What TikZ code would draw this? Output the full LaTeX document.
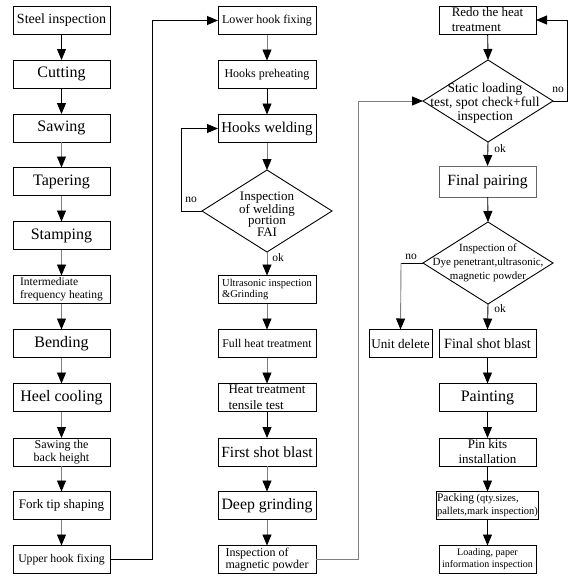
\documentclass[tikz,border=0pt]{standalone}
\usepackage{fontspec}
\setmainfont{Liberation Serif}
\usetikzlibrary{arrows.meta,shapes.geometric}
\newcommand\fz[2]{\fontsize{#1pt}{#2pt}\selectfont}
\begin{document}
\begin{tikzpicture}[x=1pt,y=-1pt,
  box/.style={draw,line width=0.9pt,minimum width=97pt,minimum height=28pt,inner sep=1pt,outer sep=0pt},
  dia/.style={draw,line width=0.9pt,diamond,minimum width=130pt,minimum height=82pt,inner sep=0pt,outer sep=0pt},
  dtext/.style={inner sep=0pt,align=center},
  arr/.style={line width=0.9pt,-{Triangle[length=11pt,width=9pt,color=black]}},
  ga/.style={arr,draw=black!50},
  lbl/.style={font=\fz{11.5}{12},inner sep=0pt}
]
\useasboundingbox[fill=white] (0,0) rectangle (578,587);
% column 1
\node[box,font=\fz{14}{15}] (a1) at (61.5,20.5) {Steel inspection};
\node[box,font=\fz{16}{17}] (a2) at (61.5,74) {Cutting};
\node[box,font=\fz{16}{17}] (a3) at (61.5,128) {Sawing};
\node[box,font=\fz{16}{17}] (a4) at (61.5,181.5) {Tapering};
\node[box,font=\fz{16}{17}] (a5) at (61.5,235.5) {Stamping};
\node[box,font=\fz{11.5}{13},align=left] (a6) at (61.5,289.5) {Intermediate\\frequency heating};
\node[box,font=\fz{16}{17}] (a7) at (61.5,343.5) {Bending};
\node[box,font=\fz{16}{17}] (a8) at (61.5,397.5) {Heel cooling};
\node[box,font=\fz{12}{13.5},align=center] (a9) at (61.5,452) {Sawing the\\back height};
\node[box,font=\fz{13}{14}] (a10) at (61.5,505.5) {Fork tip shaping};
\node[box,font=\fz{11.7}{13}] (a11) at (61.5,559.5) {Upper hook fixing};
% column 2
\node[box,minimum width=98pt,font=\fz{12}{13}] (b1) at (267,20.5) {Lower hook fixing};
\node[box,minimum width=98pt,font=\fz{12}{13}] (b2) at (267,74.5) {Hooks preheating};
\node[box,minimum width=98pt,font=\fz{15}{16}] (b3) at (267,128.5) {Hooks welding};
\node[dia] (d1) at (267,211) {};
\node[dtext,font=\fz{13}{11.7}] (t1) at (267,214) {Inspection\\of welding\\portion\\FAI};
\node[box,minimum width=98pt,font=\fz{10.5}{11.5},align=left] (b5) at (267,289.5) {Ultrasonic inspection\\\&Grinding};
\node[box,minimum width=98pt,font=\fz{11.8}{13}] (b6) at (267,343.5) {Full heat treatment};
\node[box,minimum width=98pt,font=\fz{13}{15.5},align=left] (b7) at (267,397.5) {Heat treatment\\tensile test};
\node[box,minimum width=98pt,font=\fz{15.5}{16}] (b8) at (267,452) {First shot blast};
\node[box,minimum width=98pt,font=\fz{15.8}{16}] (b9) at (267,505.5) {Deep grinding};
\node[box,minimum width=98pt,font=\fz{12}{11.5},align=left] (b10) at (267,559.5) {Inspection of\\magnetic powder};
% column 3
\node[box,font=\fz{13}{15},align=left] (c1) at (487.5,20) {Redo the heat\\treatment};
\node[dia] (d2) at (488,101) {};
\node[dtext,font=\fz{13.5}{14}] (t2) at (485,103) {Static loading\\test, spot check+full\\inspection};
\node[box,minimum height=31pt,draw=black!60,font=\fz{15.6}{16}] (c3) at (487.5,181.5) {Final pairing};
\node[dia] (d3) at (488,263) {};
\node[dtext,font=\fz{11}{14}] (t3) at (488,263) {Inspection of\\Dye penetrant,ultrasonic,\\magnetic powder};
\node[box,minimum width=63pt,font=\fz{13.2}{14}] (ud) at (400.5,343.5) {Unit delete};
\node[box,font=\fz{14.2}{15}] (c5) at (487.5,343.5) {Final shot blast};
\node[box,font=\fz{16}{17}] (c6) at (487.5,397.5) {Painting};
\node[box,font=\fz{13}{15},align=center] (c7) at (487.5,452) {Pin kits\\installation};
\node[box,font=\fz{10.5}{13},align=left] (c8) at (487.5,505.5) {{\fz{11.5}{13}Packing} (qty.sizes,\\pallets,mark inspection)};
\node[box,font=\fz{10}{12},align=center] (c9) at (487.5,559.5) {Loading, paper\\information inspection};
% column 1 arrows
\draw[arr] (a1) -- (a2);
\draw[arr] (a2) -- (a3);
\draw[ga] (a3) -- (a4);
\draw[ga] (a4) -- (a5);
\draw[ga] (a5) -- (a6);
\draw[ga] (a6) -- (a7);
\draw[ga] (a7) -- (a8);
\draw[ga] (a8) -- (a9);
\draw[ga] (a9) -- (a10);
\draw[ga] (a10) -- (a11);
\draw[arr] (a11.east) -- ++(42,0) |- (b1.west);
% column 2 arrows
\draw[ga] (b1) -- (b2);
\draw[arr] (b2) -- (b3);
\draw[ga] (b3) -- (d1.north);
\draw[ga] (d1.south) -- (b5.north);
\draw[arr] (d1.west) -- ++(-21,0) |- (b3.west);
\node[lbl] (no1) at (191,200) {no};
\node[lbl] (ok1) at (278,258) {ok};
\draw[ga] (b5) -- (b6);
\draw[ga] (b6) -- (b7);
\draw[arr] (b7) -- (b8);
\draw[ga] (b8) -- (b9);
\draw[ga] (b9) -- (b10);
\draw[ga] (b10.east) -- ++(42,0) |- (d2.west);
% column 3 arrows
\draw[arr] (c1) -- (d2.north);
\draw[arr] (d2.east) -- ++(14,0) |- (c1.east);
\node[lbl] (no2) at (558,90) {no};
\draw[arr] (d2.south) -- (c3.north);
\node[lbl] (ok2) at (500,149) {ok};
\draw[arr] (c3) -- (d3.north);
\draw[line width=0.9pt] (d3.west) -- ++(-22,0) coordinate (dl);
\draw[ga] (dl) -- (ud.north);
\node[lbl] (no3) at (411,257) {no};
\draw[arr] (d3.south) -- (c5.north);
\node[lbl] (ok3) at (500,309) {ok};
\draw[arr] (c5) -- (c6);
\draw[arr] (c6) -- (c7);
\draw[arr] (c7) -- (c8);
\draw[arr] (c8) -- (c9);
\end{tikzpicture}
\end{document}
